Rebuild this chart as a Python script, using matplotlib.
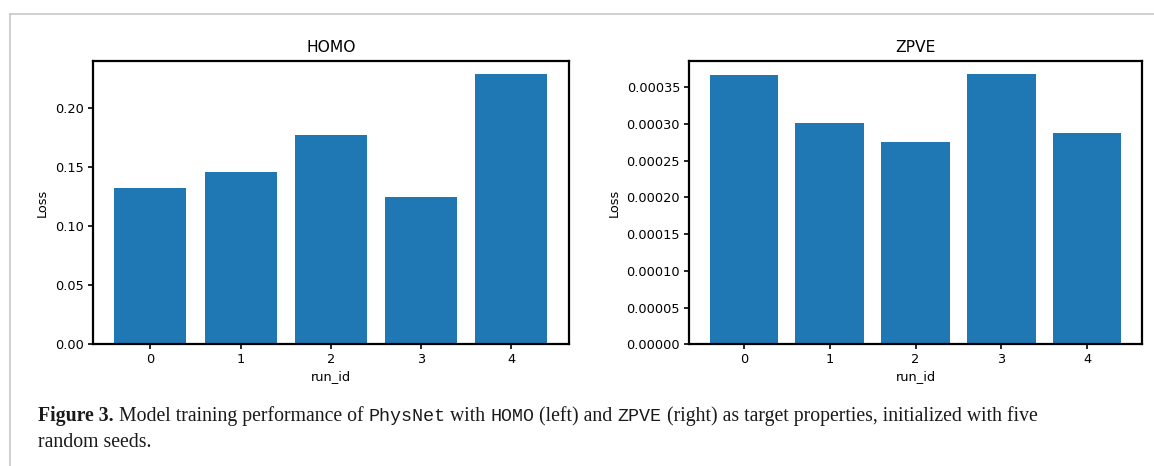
import matplotlib
matplotlib.use("Agg")
import matplotlib.pyplot as plt
from matplotlib.lines import Line2D

run_ids = [0, 1, 2, 3, 4]
homo_loss = [0.1325, 0.1458, 0.1771, 0.1249, 0.2288]
zpve_loss = [0.0003663, 0.0003010, 0.0002752, 0.0003677, 0.0002874]

bar_color = "#1f77b4"
tick_fs = 9.3
label_fs = 9.3
title_fs = 11.2

fig = plt.figure(figsize=(11.54, 4.66), dpi=100)

# page frame lines (top and left)
fig.add_artist(Line2D([10 / 1154, 1.0], [1 - 14 / 466, 1 - 14 / 466],
                      transform=fig.transFigure, color="#c8c8c8", lw=1.2))
fig.add_artist(Line2D([10 / 1154, 10 / 1154], [0.0, 1 - 14 / 466],
                      transform=fig.transFigure, color="#c8c8c8", lw=1.2))

ax1 = fig.add_axes([0.0803, 0.2612, 0.4127, 0.6086])
ax2 = fig.add_axes([0.5971, 0.2612, 0.3925, 0.6086])

for ax, vals, title in [(ax1, homo_loss, "HOMO"), (ax2, zpve_loss, "ZPVE")]:
    ax.bar(run_ids, vals, color=bar_color, width=0.8)
    ax.set_title(title, fontsize=title_fs, pad=6)
    ax.set_xlabel("run_id", fontsize=label_fs, labelpad=3)
    ax.set_ylabel("Loss", fontsize=label_fs, labelpad=4)
    ax.tick_params(labelsize=tick_fs, length=3.5, width=1.2, pad=3)
    for s in ax.spines.values():
        s.set_linewidth(1.6)

ax1.set_yticks([0.0, 0.05, 0.10, 0.15, 0.20])
ax1.set_yticklabels(["0.00", "0.05", "0.10", "0.15", "0.20"])
ax2.set_yticks([0.0, 0.00005, 0.0001, 0.00015, 0.0002, 0.00025, 0.0003, 0.00035])
ax2.set_yticklabels(["%.5f" % v for v in ax2.get_yticks()])

# caption, built from pieces in different fonts
serif = "Liberation Serif"
mono = "Liberation Mono"
pieces = [
    ("Figure 3.", serif, "bold", 14.2),
    (" Model training performance of ", serif, "normal", 14.2),
    ("PhysNet", mono, "normal", 13.2),
    (" with ", serif, "normal", 14.2),
    ("HOMO", mono, "normal", 13.2),
    (" (left) and ", serif, "normal", 14.2),
    ("ZPVE", mono, "normal", 13.2),
    (" (right) as target properties, initialized with five", serif, "normal", 14.2),
]

fig.canvas.draw()
renderer = fig.canvas.get_renderer()
x = 38 / 1154
y1 = 1 - 421 / 466
for txt, fam, wt, fs in pieces:
    t = fig.text(x, y1, txt, family=fam, weight=wt, fontsize=fs,
                 va="baseline", ha="left", color="#1a1a1a")
    bb = t.get_window_extent(renderer=renderer)
    x += bb.width / fig.bbox.width
fig.text(38 / 1154, 1 - 447 / 466, "random seeds.", family=serif,
         fontsize=14.2, va="baseline", ha="left", color="#1a1a1a")

fig.savefig("out.png", dpi=100)
